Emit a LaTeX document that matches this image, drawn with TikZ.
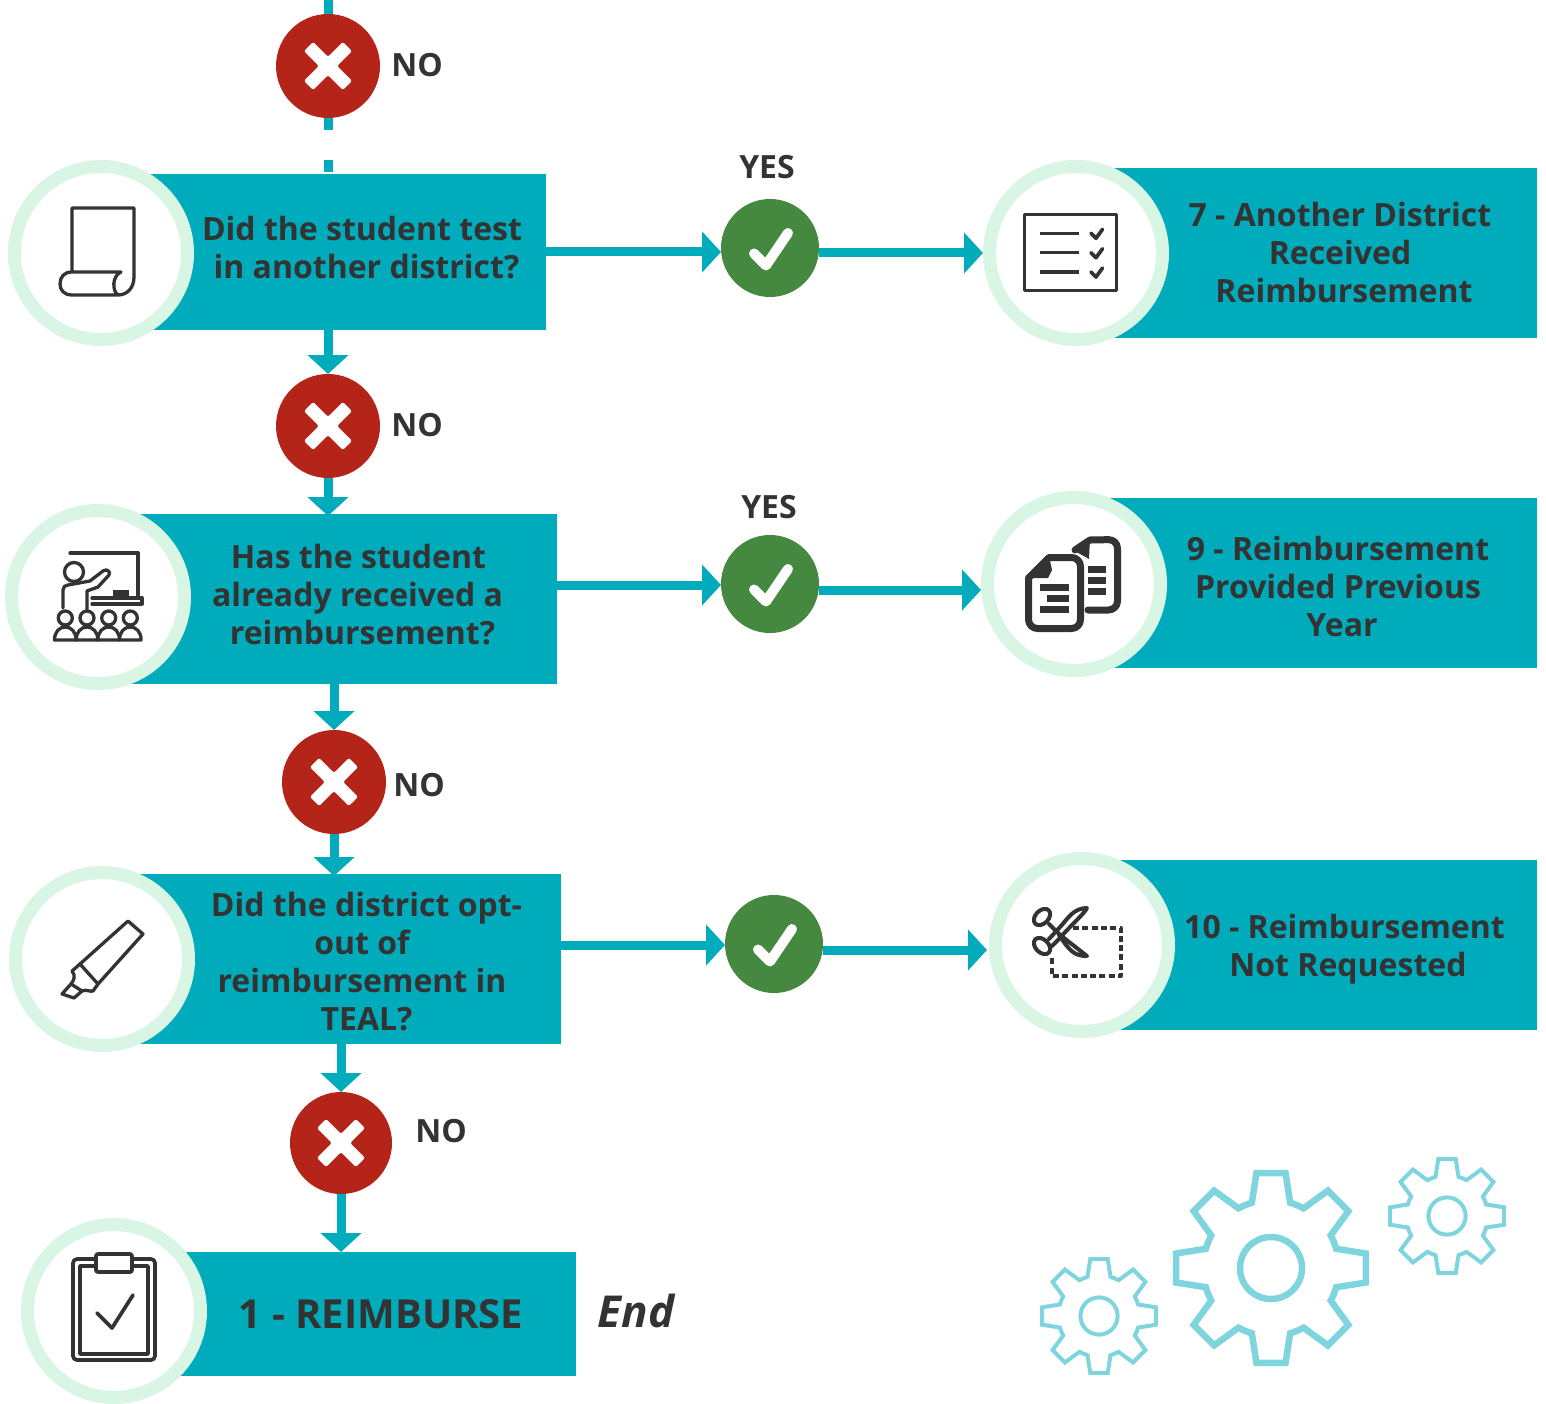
\documentclass[tikz,border=0pt]{standalone}
\usepackage{fontspec}
\setmainfont{Open Sans}
\usetikzlibrary{arrows.meta}
\definecolor{tealbox}{RGB}{0,172,187}
\definecolor{ringgreen}{RGB}{217,245,227}
\definecolor{noRed}{RGB}{181,36,25}
\definecolor{yesGreen}{RGB}{69,136,63}
\definecolor{inkdark}{RGB}{51,51,51}
\definecolor{gearblue}{RGB}{127,213,221}
\tikzset{
  qbox/.style={fill=tealbox,inner sep=0pt,outer sep=0pt},
  ring/.style={circle,draw=ringgreen,fill=white,line width=13pt,minimum size=173pt,inner sep=0pt},
  nomark/.style={circle,fill=noRed,minimum size=104pt,inner sep=0pt,outer sep=0pt,
    path picture={\fill[white,rounded corners=2pt,shift={(path picture bounding box.center)}]
      (14.85,-24.04) -- (24.04,-14.85) -- (9.19,0) -- (24.04,14.85) -- (14.85,24.04) -- (0,9.19)
      -- (-14.85,24.04) -- (-24.04,14.85) -- (-9.19,0) -- (-24.04,-14.85) -- (-14.85,-24.04) -- (0,-9.19) -- cycle;}},
  yesmark/.style={circle,fill=yesGreen,minimum size=98pt,inner sep=0pt,outer sep=0pt,
    path picture={\draw[white,line width=10pt,line cap=round,line join=round]
      ([shift={(-16,5.5)}]path picture bounding box.center) -- ([shift={(-4,17.5)}]path picture bounding box.center)
      -- ([shift={(18,-15)}]path picture bounding box.center);}},
  flow/.style={draw=tealbox,line width=9pt,-{Triangle[length=19pt,width=40pt]}},
  plainflow/.style={draw=tealbox,line width=9pt},
  qtext/.style={text=inkdark,font=\fontsize{32}{38}\selectfont\bfseries,align=center},
  tagtext/.style={text=inkdark,font=\fontsize{32}{38}\selectfont\bfseries},
  icon/.style={draw=inkdark,line width=3.3pt,line join=round,line cap=round},
  gear/.style={draw=gearblue,line join=miter}
}
% one cog wheel: centre, scale, line width
\newcommand{\cogwheel}[4]{
  \begin{scope}[shift={(#1,#2)},scale=#3]
    \draw[gear,line width=#4pt] (-16.4:68) \foreach \a in {0,45,...,315} {
      -- (\a-8.7:96) -- (\a+8.7:96) -- (\a+16.4:68)
      arc[start angle=\a+16.4,end angle=\a+28.6,radius=68]} -- cycle;
    \draw[gear,line width=#4pt] (0,0) circle (31);
  \end{scope}
}
\begin{document}
\begin{tikzpicture}[x=1pt,y=-1pt]
\useasboundingbox (0,0) rectangle (1546,1404);
% boxes
\node[qbox,minimum width=446pt,minimum height=156pt] (q1) at (323,252) {};
\node[qbox,minimum width=459pt,minimum height=170pt] (q2) at (327.5,599) {};
\node[qbox,minimum width=459pt,minimum height=170pt] (q3) at (331.5,959) {};
\node[qbox,minimum width=462pt,minimum height=124pt] (q4) at (345,1314) {};
\node[qbox,minimum width=461pt,minimum height=170pt] (r1) at (1306.5,253) {};
\node[qbox,minimum width=463pt,minimum height=170pt] (r2) at (1305.5,583) {};
\node[qbox,minimum width=455pt,minimum height=170pt] (r3) at (1309.5,945) {};
% rings
\node[ring] (c1) at (101,253) {};
\node[ring] (c2) at (98,597) {};
\node[ring] (c3) at (102,959) {};
\node[ring] (c4) at (114,1311) {};
\node[ring] (d1) at (1076,253) {};
\node[ring] (d2) at (1074,584) {};
\node[ring] (d3) at (1082,945) {};
% marks
\node[nomark] (no0) at (328,66) {};
\node[nomark] (no1) at (328,426) {};
\node[nomark] (no2) at (334,782) {};
\node[nomark,minimum size=102pt] (no3) at (341,1143) {};
\node[yesmark] (yes1) at (770,248) {};
\node[yesmark] (yes2) at (770,584) {};
\node[yesmark] (yes3) at (774,944) {};
% flow
\coordinate (top) at (328,0);
\coordinate (gapA) at (328,130);
\coordinate (gapB) at (328,160);
\coordinate (gapC) at (328,172);
\draw[plainflow] (top) -- (no0.north);
\draw[plainflow] (no0.south) -- (gapA);
\draw[plainflow] (gapB) -- (gapC);
\draw[flow] (q1.south -| no1.north) -- (no1.north);
\draw[flow,shorten >=-2pt] (no1.south) -- (no1.south |- q2.north);
\draw[flow] (q2.south -| no2.north) -- (no2.north);
\draw[flow,shorten >=-2pt] (no2.south) -- (no2.south |- q3.north);
\draw[flow] (q3.south -| no3.north) -- (no3.north);
\draw[flow] (no3.south) -- (no3.south |- q4.north);
\draw[flow] (q1.east) -- (q1.east -| yes1.west);
\draw[flow] (yes1.east |- d1.west) -- (d1.west);
\draw[flow] ([yshift=14pt]q2.east) -- ([yshift=14pt]q2.east -| yes2.west);
\draw[flow] ([yshift=-6pt]yes2.east) -- ([yshift=-6pt]yes2.east -| d2.west);
\draw[flow] ([yshift=14pt]q3.east) -- ([yshift=14pt]q3.east -| yes3.west);
\draw[flow,shorten >=2pt] ([yshift=-6pt]yes3.east) -- ([yshift=-6pt]yes3.east -| d3.west);
% texts
\node[qtext] (t1) at (362,248) {Did the student test\\\hspace*{9pt}in another district?};
\node[qtext] (t2) at (357.5,595) {\hspace*{2pt}Has the student\\already received a\\\hspace*{10pt}reimbursement?};
\node[qtext] (t3) at (366.5,962) {Did the district opt-\\out of\rule{9pt}{0pt}\\reimbursement in\rule{9pt}{0pt}\\TEAL?};
\node[text=inkdark,font=\fontsize{40}{48}\selectfont\bfseries] (t4) at (381,1314) {1 - REIMBURSE};
\node[qtext] (t5) at (1340,253) {7 - Another District\\Received\\\hspace*{8pt}Reimbursement};
\node[qtext] (t6) at (1338,586) {9 - Reimbursement\\Provided Previous\\\hspace*{8pt}Year};
\node[qtext] (t7) at (1344.5,949) {10 - Reimbursement\\\hspace*{7pt}Not Requested};
\node[tagtext] (n0) at (417,65) {NO};
\node[tagtext] (n1) at (417,425) {NO};
\node[tagtext] (n2) at (419,785) {NO};
\node[tagtext] (n3) at (441,1131) {NO};
\node[tagtext] (y1) at (767,167) {YES};
\node[tagtext] (y2) at (769,507) {YES};
\node[text=inkdark,font=\fontsize{44}{48}\selectfont\bfseries\itshape] (endlabel) at (636,1311) {End};
% scroll icon
\draw[icon] (72,272) -- (72,208) -- (134,208) -- (134,277) .. controls (134,288) and (127,295) .. (118,295) -- (72,295)
  .. controls (64,295) and (60,290) .. (60,284) .. controls (60,277) and (64,272) .. (72,272) -- (121,272)
  .. controls (112,276) and (112,291) .. (118,295);
% classroom icon
\begin{scope}[every path/.append style={line width=4pt}]
\draw[icon] (70,553) -- (138,553) -- (138,598);
\draw[icon] (92,598) -- (142,598) -- (142,604) -- (92,604);
\fill[inkdark] (113,590) rectangle (129,598);
\draw[icon] (74,572) circle (9.5);
\draw[icon] (63,608) -- (63,590) .. controls (63,587) and (65,585) .. (68,585) -- (90,581) -- (103,571)
  .. controls (107,568) and (111,572) .. (109,575) -- (98,587) -- (87,591) -- (87,610);
\foreach \x in {65.3,87,108.7,130.3} {
  \draw[icon] (\x,618) circle (7);
  \draw[icon] (\x-10.8,640) .. controls (\x-10.8,632) and (\x-6,627) .. (\x,627)
    .. controls (\x+6,627) and (\x+10.8,632) .. (\x+10.8,640) -- cycle;
}
\end{scope}
% marker icon
\draw[icon] (128,921) -- (143,934) -- (98,984) -- (80,964) -- cycle;
\draw[icon] (80,964) -- (72,971) .. controls (76,976) and (74,980) .. (71,984) -- (62,994) -- (74,998) -- (82,991)
  .. controls (86,989) and (90,992) .. (93,991) -- (98,984);
\draw[icon] (71,984) -- (82,991);
% clipboard icon
\draw[icon,line width=3.7pt,rounded corners=4pt] (73,1259) rectangle (155,1360);
\draw[icon,line width=3.7pt] (80,1266) rectangle (148,1354);
\draw[icon,line width=3.7pt,fill=white,rounded corners=2pt] (96,1254) rectangle (132,1272);
\draw[icon,line width=3.7pt] (97,1313) -- (112,1328) -- (133,1295);
% checklist icon
\draw[icon,line width=3pt] (1024.5,215) rectangle (1116.5,291);
\foreach \y in {233.3,252.7,272} {
  \draw[icon,line cap=butt] (1040,\y) -- (1079,\y);
  \draw[icon,line width=3.7pt] (1091,\y) -- (1096,\y+5) -- (1102.5,\y-4);
}
% documents icon
\draw[icon,line width=7pt,rounded corners=9pt] (1075,550) [sharp corners] -- (1090,540) [rounded corners=9pt] -- (1117.5,539.5) -- (1117.5,610) -- (1088,610);
\fill[inkdark] (1073,550) -- (1090,537) -- (1089,559) -- cycle;
\foreach \y in {566,577,588} { \fill[inkdark] (1088,\y) rectangle (1106,\y+7); }
\draw[icon,line width=7pt,rounded corners=9pt] (1028.5,578) [sharp corners] -- (1049,557.5) [rounded corners=9pt] -- (1080.5,557.5) -- (1080.5,628.5) -- (1028.5,628.5) [sharp corners] -- (1028.5,578);
\fill[inkdark] (1028,578) -- (1049,556) -- (1052,570) -- (1048,578) -- cycle;
\fill[inkdark] (1040,584) rectangle (1069,591);
\fill[inkdark] (1047,595) rectangle (1069,602);
\fill[inkdark] (1040,606) rectangle (1069,613);
% scissors icon
\draw[icon,line width=4pt,line cap=butt,dash pattern=on 6pt off 3.3pt] (1073,928) -- (1121,928) -- (1121,976) -- (1052,976) -- (1052,957);
\draw[icon,line width=4pt,rotate around={45:(1042,917)}] (1042,917) ellipse (9.5 and 6.5);
\draw[icon,line width=4pt,rotate around={-45:(1042,946)}] (1042,946) ellipse (9.5 and 6.5);
\draw[icon,line width=4pt] (1049,924) -- (1057,932) -- (1064,938) -- (1087,956) .. controls (1076,956) and (1072,952) .. (1066,945) -- (1059,935);
\draw[icon,line width=4pt] (1049,939) -- (1061,926) .. controls (1068,918) and (1074,908) .. (1087,908) .. controls (1084,914) and (1072,924) .. (1058,940) -- (1052,946);
% gears
\cogwheel{1271}{1268}{1}{6.5}
\cogwheel{1447}{1216}{0.6}{4}
\cogwheel{1099}{1316}{0.6}{4}
\end{tikzpicture}
\end{document}
